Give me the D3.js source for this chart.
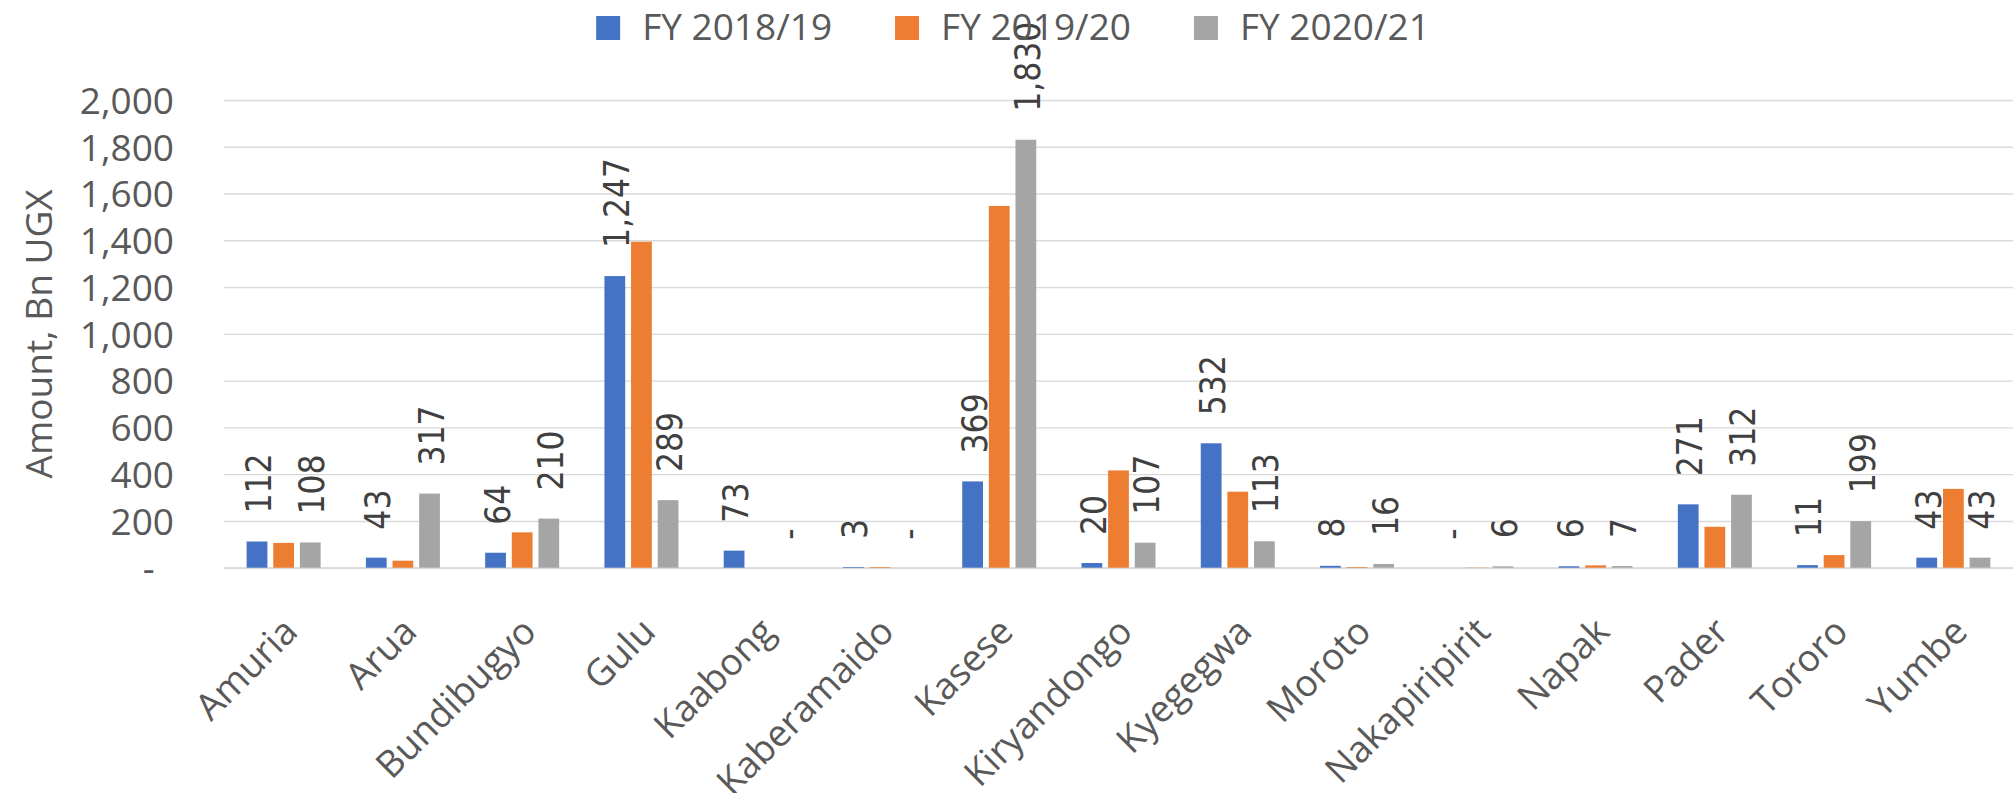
<!DOCTYPE html>
<html>
<head>
<meta charset="utf-8">
<script src="https://cdn.jsdelivr.net/npm/d3@7"></script>
<style>
    body { margin: 0; background: #ffffff; }
    svg { display: block; }
</style>
</head>
<body>
<svg id="chart" width="2013" height="793"></svg>
<script>
/*
    Budget amounts by district, three financial years, grouped columns
 */

const categories = ["Amuria", "Arua", "Bundibugyo", "Gulu", "Kaabong", "Kaberamaido", "Kasese",
    "Kiryandongo", "Kyegegwa", "Moroto", "Nakapiripirit", "Napak", "Pader", "Tororo", "Yumbe"];
const seriesNames = ["FY 2018/19", "FY 2019/20", "FY 2020/21"];
const fy1819 = [112, 43, 64, 1247, 73, 3, 369, 20, 532, 8, 0, 6, 271, 11, 43];
const fy1920 = [106, 30, 151, 1394, 0, 3, 1547, 416, 325, 3, 1, 10, 175, 54, 337];
const fy2021 = [108, 317, 210, 289, 0, 0, 1830, 107, 113, 16, 6, 7, 312, 199, 43];
const yTicks = [0, 200, 400, 600, 800, 1000, 1200, 1400, 1600, 1800, 2000];
const yTitle = "Amount, Bn UGX";

const WIDTH = 2013;
const COLORS = ["#4472c4", "#ed7d31", "#a5a5a5"];
const plot = {left: 224, right: 2013, top: 100, bottom: 567.7};
const axisFont = "'Open Sans', sans-serif";
const labelFont = "'DejaVu Sans Condensed', 'DejaVu Sans', sans-serif";

const svg = d3.select("#chart");
svg.append("rect").attr("width", WIDTH).attr("height", 793).attr("fill", "#ffffff");

const seriesValues = [fy1819, fy1920, fy2021];
// only the first and last series carry data labels in the original
const showLabels = [true, false, true];

const x0 = d3.scaleBand()
    .domain(categories)
    .range([plot.left, plot.right]);

const groupWidth = 74;
const x1 = d3.scaleBand()
    .domain(seriesNames)
    .range([0, groupWidth])
    .paddingInner(0.22);
const groupOffset = (x0.bandwidth() - groupWidth) / 2;

const y = d3.scaleLinear()
    .domain([0, 2000])
    .range([plot.bottom, plot.top]);

function amountFormat(v) {
    return v === 0 ? "-" : d3.format(",")(v);
}

// y axis with gridlines
const yAxis = svg.append("g")
    .attr("transform", `translate(${plot.left},0)`)
    .call(d3.axisLeft(y)
        .tickValues(yTicks)
        .tickSize(-(plot.right - plot.left))
        .tickPadding(50)
        .tickFormat(d => d === 0 ? "-\u00a0\u00a0" : d3.format(",")(d)));
yAxis.select(".domain").remove();
yAxis.selectAll(".tick line")
    .attr("stroke", "#d9d9d9")
    .attr("stroke-width", 1.4);
yAxis.selectAll(".tick text")
    .attr("fill", "#595959")
    .style("font-family", axisFont)
    .style("font-size", "37px")
    .attr("dy", "0.36em");

// x axis
const xAxis = svg.append("g")
    .attr("transform", `translate(0,${plot.bottom})`)
    .call(d3.axisBottom(x0).tickSize(0).tickPadding(0));
xAxis.select(".domain")
    .attr("stroke", "#d9d9d9")
    .attr("stroke-width", 1.8);
xAxis.selectAll(".tick text")
    .attr("fill", "#595959")
    .style("font-family", axisFont)
    .style("font-size", "37px")
    .attr("text-anchor", "end")
    .attr("x", 0)
    .attr("y", 0)
    .attr("dy", 0)
    .attr("transform", "translate(16,66) rotate(-45)");

// bars
const rows = categories.map((c, i) => ({
    category: c,
    values: seriesNames.map((s, j) => ({series: s, idx: j, value: seriesValues[j][i]}))
}));

const groups = svg.append("g").selectAll("g")
    .data(rows)
    .enter().append("g")
    .attr("transform", d => `translate(${x0(d.category) + groupOffset},0)`);

groups.selectAll("rect")
    .data(d => d.values)
    .enter().append("rect")
    .attr("x", d => x1(d.series))
    .attr("y", d => y(d.value))
    .attr("width", x1.bandwidth())
    .attr("height", d => y(0) - y(d.value))
    .attr("fill", d => COLORS[d.idx]);

// rotated data labels above the bars
groups.selectAll("text")
    .data(d => d.values.filter(v => showLabels[v.idx]))
    .enter().append("text")
    .attr("transform", d => {
        let cx = x1(d.series) + x1.bandwidth() / 2;
        return `translate(${cx + 14},${y(d.value) - 28}) rotate(-90)`;
    })
    .attr("text-anchor", "start")
    .attr("fill", "#404040")
    .style("font-family", labelFont)
    .style("font-size", "35px")
    .text(d => amountFormat(d.value));

// y axis title
svg.append("text")
    .attr("transform", `translate(${52},${(plot.top + plot.bottom) / 2}) rotate(-90)`)
    .attr("text-anchor", "middle")
    .attr("fill", "#595959")
    .style("font-family", axisFont)
    .style("font-size", "37px")
    .text(yTitle);

// legend, centred across the top
const legend = svg.append("g");
const items = legend.selectAll("g")
    .data(seriesNames)
    .enter().append("g");
items.append("rect")
    .attr("width", 24)
    .attr("height", 24)
    .attr("y", 16)
    .attr("fill", (d, i) => COLORS[i]);
items.append("text")
    .attr("x", 46)
    .attr("y", 40)
    .attr("fill", "#595959")
    .style("font-family", axisFont)
    .style("font-size", "37px")
    .text(d => d);

let cursor = 0;
items.each(function () {
    let w = d3.select(this).select("text").node().getComputedTextLength();
    d3.select(this).attr("transform", `translate(${cursor},0)`);
    cursor += 46 + w + 63;
});
let legendWidth = cursor - 63;
legend.attr("transform", `translate(${1013 - legendWidth / 2},0)`);
</script>
</body>
</html>
